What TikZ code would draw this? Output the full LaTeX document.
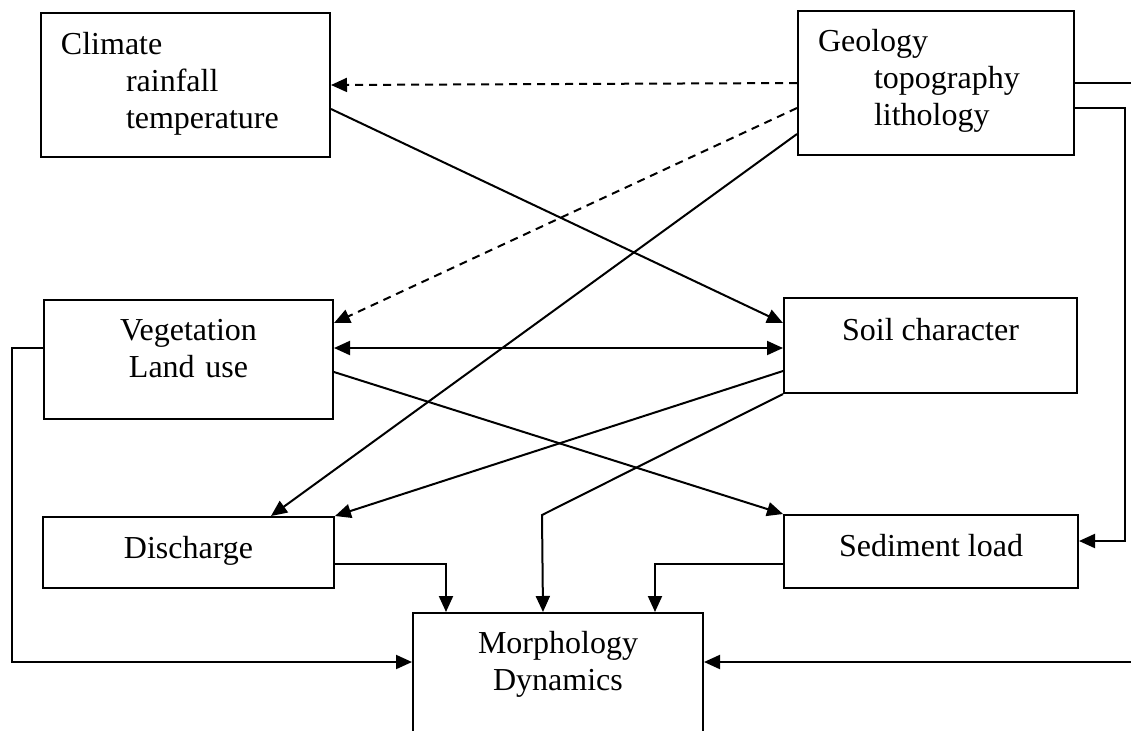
\documentclass[tikz,border=0pt]{standalone}
\usepackage{fontspec}
\setmainfont{Liberation Serif}
\usetikzlibrary{arrows.meta}

\tikzset{
  box/.style={draw, line width=1pt, inner ysep=0pt, anchor=north west,
    font=\fontsize{16pt}{18.5pt}\selectfont},
  conn/.style={line width=1pt, -{Triangle[length=8pt,width=7pt]}},
  twoway/.style={line width=1pt, {Triangle[length=8pt,width=7pt]}-{Triangle[length=8pt,width=7pt]}},
  dashline/.style={dash pattern=on 4pt off 3pt}
}

\begin{document}
\begin{tikzpicture}[x=0.5pt,y=-0.5pt]
  \useasboundingbox (0,0) rectangle (1131,730);

  \node[box, inner xsep=10pt, text width=124.5pt, align=left, text height=20.5pt, text depth=51.5pt] (node1) at (40,12)
    {Climate\\\hspace*{32.5pt}rainfall\\\hspace*{32.5pt}temperature};
  \node[box, inner xsep=10pt, text width=118pt, align=left, text height=20pt, text depth=52pt] (node2) at (797,10)
    {Geology\\\hspace*{28pt}topography\\\hspace*{28pt}lithology};
  \node[box, inner xsep=0pt, text width=144.5pt, align=center, text height=20pt, text depth=39.5pt] (node3) at (43,299)
    {Vegetation\\Land use};
  \node[box, minimum width=146.5pt, text height=21pt, text depth=26.5pt] (node4) at (783,297) {Soil character};
  \node[box, minimum width=145.5pt, text height=20.5pt, text depth=15pt] (node5) at (42,516) {Discharge};
  \node[box, minimum width=147pt, text height=20.5pt, text depth=16pt] (node6) at (783,514) {Sediment load};
  \node[box, inner xsep=0pt, text width=145pt, align=center, text height=20pt, text depth=59pt] (node7) at (412,612)
    {Morphology\\Dynamics};

  % Geology to climate, vegetation and discharge
  \draw[conn, dashline] (node2.west) -- (node1.east);
  \draw[conn, dashline] ([yshift=-12.5pt]node2.west) -- ([yshift=18.25pt]node3.east);
  \draw[conn] ([yshift=-25.5pt]node2.west) -- ([xshift=41.25pt]node5.north);

  % climate to soil
  \draw[conn] ([yshift=-12pt]node1.east) -- ([yshift=11.25pt]node4.west);

  % vegetation and soil
  \coordinate (v1) at ([yshift=5.75pt]node3.east);
  \draw[twoway] (v1) -- (v1 -| node4.west);
  \draw[conn] ([yshift=-6.25pt]node3.east) -- (node6.north west);
  \draw[conn] ([yshift=-12.75pt]node4.west) -- (node5.north east);
  \draw[conn] (node4.south west) -- ++(-120.5pt,-60.5pt) -- ([xshift=-7.5pt]node7.north);

  % into morphology
  \draw[conn] ([yshift=-5.75pt]node5.east) -| ([xshift=-56pt]node7.north);
  \draw[conn] ([yshift=-6.25pt]node6.west) -| ([xshift=48.5pt]node7.north);
  \draw[conn] ([yshift=-12.5pt]node2.east) -- ++(25pt,0) |- ([yshift=5.25pt]node6.east);
  \draw[conn] (node2.east) -- ++(45pt,0) |- ([yshift=15pt]node7.east);
  \draw[conn] ([yshift=5.75pt]node3.west) -- ++(-15.5pt,0) |- ([yshift=15pt]node7.west);

\end{tikzpicture}
\end{document}
